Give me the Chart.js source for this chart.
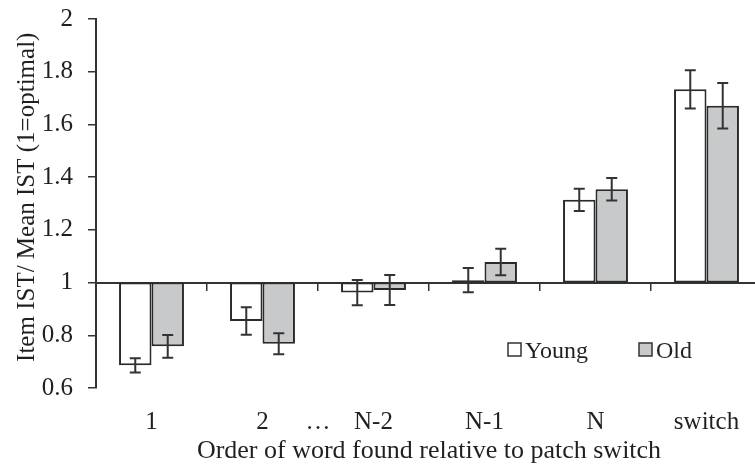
<!DOCTYPE html>
<html>
<head>
<meta charset="utf-8">
<script src="https://cdn.jsdelivr.net/npm/chart.js@4.4.1/dist/chart.umd.min.js"></script>
<style>
  html, body { margin: 0; padding: 0; background: #fff; overflow: hidden; }
  /* the original figure is cropped a few px past its right edge */
  #wrap { width: 762px; height: 467px; }
</style>
</head>
<body>
<div id="wrap"><canvas id="istChart"></canvas></div>
<script>
// values (bars start at 1 = optimal)
const categories = ["1", "2", "N-2", "N-1", "N", "switch"];
const youngMeans = [0.686, 0.854, 0.962, 1.009, 1.314, 1.733];
const youngErrors = [0.027, 0.052, 0.048, 0.046, 0.042, 0.073];
const oldMeans = [0.758, 0.768, 0.972, 1.078, 1.354, 1.671];
const oldErrors = [0.043, 0.040, 0.057, 0.050, 0.043, 0.086];
const yTicks = [0.6, 0.8, 1, 1.2, 1.4, 1.6, 1.8, 2];
const baseline = 1;

const ink = "#231f20";
const lineInk = "#333333";
const serif = "'Liberation Serif', 'Times New Roman', serif";

Chart.defaults.font.family = serif;
Chart.defaults.font.size = 25;
Chart.defaults.color = ink;

const errorSets = [youngErrors, oldErrors];
const meanSets = [youngMeans, oldMeans];

const errorBars = {
  id: "errorBars",
  afterDatasetsDraw(chart) {
    const ctx = chart.ctx;
    const yScale = chart.scales.y;
    ctx.save();
    ctx.strokeStyle = lineInk;
    ctx.lineWidth = 2;
    chart.data.datasets.forEach((ds, i) => {
      const meta = chart.getDatasetMeta(i);
      meta.data.forEach((bar, j) => {
        const m = meanSets[i][j];
        const e = errorSets[i][j];
        const top = yScale.getPixelForValue(m + e);
        const bot = yScale.getPixelForValue(m - e);
        const cap = 5.5;
        ctx.beginPath();
        ctx.moveTo(bar.x, top);
        ctx.lineTo(bar.x, bot);
        ctx.moveTo(bar.x - cap, top);
        ctx.lineTo(bar.x + cap, top);
        ctx.moveTo(bar.x - cap, bot);
        ctx.lineTo(bar.x + cap, bot);
        ctx.stroke();
      });
    });
    ctx.restore();
  }
};

// the "..." between category 2 and N-2
const gapMark = {
  id: "gapMark",
  afterDraw(chart) {
    const x = chart.scales.x;
    const ctx = chart.ctx;
    ctx.save();
    ctx.font = "25px " + serif;
    ctx.fillStyle = ink;
    ctx.textAlign = "center";
    ctx.textBaseline = "middle";
    ctx.fillText("\u2026", x.getPixelForValue(1.5), x.top + 19 + 15);
    ctx.restore();
  }
};

// legend sits inside the plot, lower right
const innerLegend = {
  id: "innerLegend",
  afterDraw(chart, args, opts) {
    const ctx = chart.ctx;
    const area = chart.chartArea;
    let x = area.left + opts.left;
    const y = area.top + opts.top;
    ctx.save();
    ctx.font = "24px " + serif;
    ctx.textBaseline = "alphabetic";
    chart.data.datasets.forEach((ds) => {
      ctx.fillStyle = ds.backgroundColor;
      ctx.fillRect(x, y, 13, 13);
      ctx.strokeStyle = lineInk;
      ctx.lineWidth = 1.5;
      ctx.strokeRect(x, y, 13, 13);
      ctx.fillStyle = ink;
      ctx.fillText(ds.label, x + 17, y + 15);
      x += 131;
    });
    ctx.restore();
  }
};

new Chart(document.getElementById("istChart"), {
  type: "bar",
  data: {
    labels: categories,
    datasets: [
      {
        label: "Young",
        data: youngMeans.map((v) => [baseline, v]),
        backgroundColor: "#ffffff",
        borderColor: "#2a2a2a",
        borderWidth: 2,
        borderSkipped: false
      },
      {
        label: "Old",
        data: oldMeans.map((v) => [baseline, v]),
        backgroundColor: "#c8c9ca",
        borderColor: "#2a2a2a",
        borderWidth: 2,
        borderSkipped: false
      }
    ]
  },
  options: {
    responsive: true,
    maintainAspectRatio: false,
    animation: false,
    datasets: { bar: { categoryPercentage: 0.585, barPercentage: 1 } },
    layout: { padding: { left: 12, top: 19, right: 0, bottom: 0 } },
    plugins: {
      legend: { display: false },
      tooltip: { enabled: false },
      innerLegend: { left: 412, top: 324 }
    },
    scales: {
      x: {
        position: "bottom",
        border: { display: false },
        grid: { display: false, drawTicks: false },
        ticks: { padding: 19, maxRotation: 0, minRotation: 0, autoSkip: false },
        title: {
          display: true,
          text: "Order of word found relative to patch switch",
          font: { size: 26 },
          padding: { top: -2, bottom: 0 }
        },
        afterFit: (scale) => { scale.height = 79; }
      },
      xBase: {
        type: "category",
        position: { y: baseline },
        offset: true,
        ticks: { display: false },
        border: { display: true, color: lineInk, width: 2 },
        grid: {
          offset: true,
          drawOnChartArea: false,
          drawTicks: true,
          tickLength: 7,
          color: lineInk,
          lineWidth: 1.5
        }
      },
      y: {
        min: 0.6,
        max: 2,
        afterBuildTicks: (scale) => {
          scale.ticks = yTicks.map((v) => ({ value: v }));
        },
        afterFit: (scale) => {
          scale.width = 84;
          scale.paddingTop = 0;
        },
        border: { display: true, color: lineInk, width: 2 },
        grid: {
          drawOnChartArea: false,
          drawTicks: true,
          tickLength: 8,
          color: lineInk,
          lineWidth: 1.5
        },
        ticks: {
          padding: 15,
          callback: (v) => String(+v.toFixed(1))
        },
        title: {
          display: true,
          text: "  Item IST/ Mean IST (1=optimal)",
          padding: { top: 0, bottom: 0 }
        }
      }
    }
  },
  plugins: [errorBars, gapMark, innerLegend]
});
</script>
</body>
</html>
